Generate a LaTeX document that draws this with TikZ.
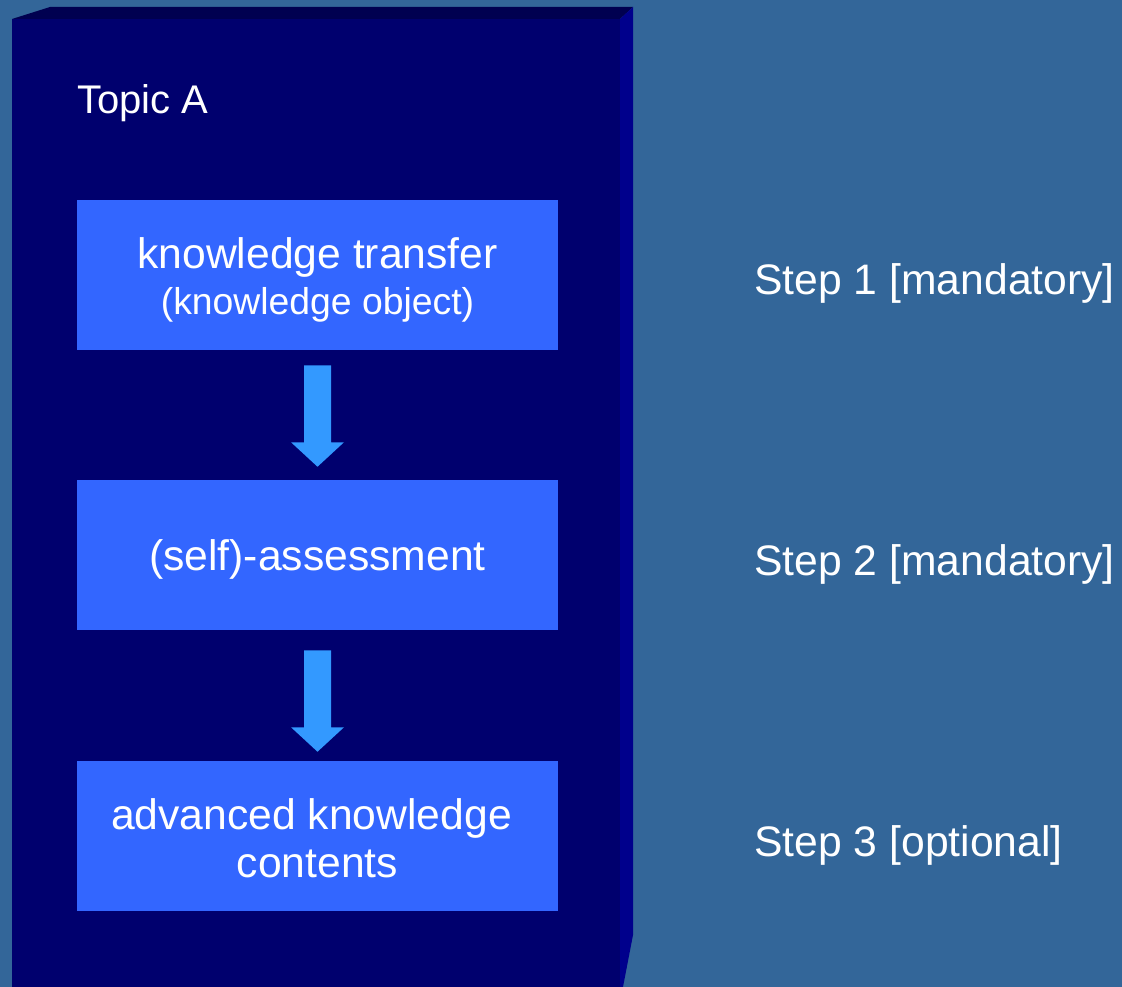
\documentclass[tikz,border=0pt]{standalone}
\usepackage{fontspec}
\setmainfont{Liberation Sans}
\usetikzlibrary{calc}
\definecolor{bg}{RGB}{51,102,153}
\definecolor{front}{RGB}{0,0,110}
\definecolor{topface}{RGB}{0,0,80}
\definecolor{sideface}{RGB}{0,0,140}
\definecolor{boxblue}{RGB}{51,102,255}
\definecolor{arrowblue}{RGB}{51,153,255}
\tikzset{
  stepbox/.style={fill=boxblue, draw=none, minimum width=360.75pt, minimum height=112.5pt, inner sep=0pt},
  boxtext/.style={align=center, text=white, inner sep=0pt, font=\fontsize{32}{38}\selectfont},
  steplabel/.style={anchor=west, text=white, inner sep=0pt, font=\fontsize{32}{38}\selectfont},
  blockarrow/.style={fill=arrowblue, draw=none}
}
\begin{document}
\begin{tikzpicture}[x=0.75pt,y=-0.75pt]
\useasboundingbox (0,0) rectangle (1122,987);
\fill[bg] (0,0) rectangle (1122,987);
% 3D box
\fill[front] (12,19) rectangle (620,987);
\fill[topface] (12,19) -- (50,7) -- (633,7) -- (620,19) -- cycle;
\fill[sideface] (620,19) -- (633,7) -- (633,935) -- (623,987) -- (620,987) -- cycle;
\node[steplabel, font=\fontsize{30}{36}\selectfont] (topic) at (77,103) {Topic A};
% boxes
\node[stepbox] (b1) at (317.5,275) {};
\node[stepbox] (b2) at (317.5,555) {};
\node[stepbox] (b3) at (317.5,836) {};
\node[boxtext] (t1) at ($(b1.center)+(0,5)$) {knowledge transfer\\[-4pt]{\fontsize{28}{32}\selectfont (knowledge object)}};
\node[boxtext] (t2) at ($(b2.center)+(0,4)$) {(self)-assessment};
\node[boxtext] (t3) at ($(b3.center)+(0,2)$) {advanced knowledge\kern9pt\\[-2pt]contents};
% arrows
\fill[blockarrow] ($(b1.south)+(-13.5,15)$) -- ($(b1.south)+(13.5,15)$) -- ($(b1.south)+(13.5,92)$) -- ($(b1.south)+(26.5,92)$) -- ($(b2.north)+(0,-13)$) -- ($(b1.south)+(-26.5,92)$) -- ($(b1.south)+(-13.5,92)$) -- cycle;
\fill[blockarrow] ($(b2.south)+(-13.5,20)$) -- ($(b2.south)+(13.5,20)$) -- ($(b2.south)+(13.5,97)$) -- ($(b2.south)+(26.5,97)$) -- ($(b3.north)+(0,-9)$) -- ($(b2.south)+(-26.5,97)$) -- ($(b2.south)+(-13.5,97)$) -- cycle;
% step labels
\node[steplabel] (s1) at (754,283) {Step 1 [mandatory]};
\node[steplabel] (s2) at (754,564) {Step 2 [mandatory]};
\node[steplabel] (s3) at (754,845) {Step 3 [optional]};
\end{tikzpicture}
\end{document}
